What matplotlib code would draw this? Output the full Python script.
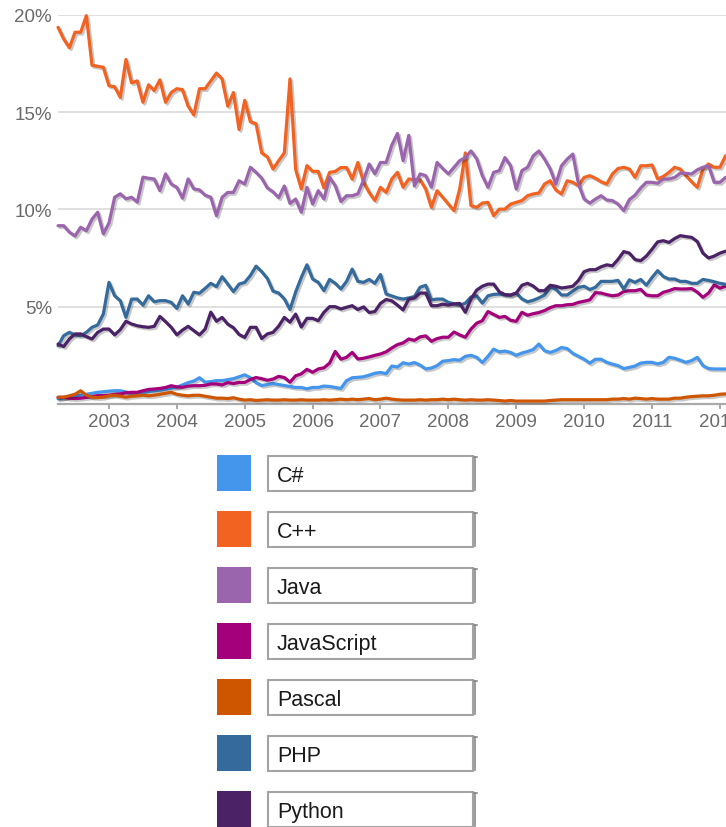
import matplotlib
matplotlib.use("Agg")
import matplotlib.pyplot as plt
import matplotlib.patheffects as pe
from matplotlib.patches import Rectangle
from matplotlib.lines import Line2D
import pandas as pd

plt.rcParams['font.family'] = ['Liberation Sans', 'DejaVu Sans']

# ---------------- data ----------------
months = pd.date_range("2002-04-01", periods=119, freq="MS")

names = ['C#', 'C++', 'Java', 'JavaScript', 'Pascal', 'PHP', 'Python']
colors = ['#4496EC', '#F26322', '#9B65AE', '#A5007B', '#CF5600', '#356A9C', '#4B2266']

csharp = [0.26, 0.32, 0.37, 0.4, 0.45, 0.5, 0.55, 0.6, 0.63, 0.66,
          0.68, 0.68, 0.62, 0.52, 0.55, 0.6, 0.64, 0.68, 0.72, 0.77,
          0.82, 0.86, 0.98, 1.1, 1.18, 1.35, 1.12, 1.15, 1.2, 1.2,
          1.25, 1.3, 1.4, 1.5, 1.35, 1.1, 0.95, 1.0, 1.05, 1.0,
          0.95, 0.9, 0.85, 0.85, 0.78, 0.85, 0.85, 0.92, 0.9, 0.85,
          0.8, 1.2, 1.35, 1.37, 1.4, 1.48, 1.58, 1.62, 1.56, 1.95,
          1.9, 2.12, 2.05, 2.13, 2.0, 1.8, 1.85, 1.97, 2.2, 2.23,
          2.28, 2.25, 2.45, 2.5, 2.4, 2.13, 2.45, 2.82, 2.68, 2.72,
          2.65, 2.5, 2.62, 2.7, 2.8, 3.08, 2.74, 2.65, 2.75, 2.9,
          2.85, 2.6, 2.45, 2.3, 2.1, 2.3, 2.3, 2.14, 2.05, 1.97,
          1.82, 1.88, 1.95, 2.1, 2.14, 2.14, 2.06, 2.14, 2.4, 2.35,
          2.25, 2.14, 2.23, 2.4, 1.97, 1.82, 1.8, 1.8, 1.8]

cpp = [19.35, 18.75, 18.3, 19.1, 19.1, 19.95, 17.4, 17.35, 17.3, 16.35,
       16.3, 15.75, 17.7, 16.5, 16.6, 15.5, 16.4, 16.1, 16.65, 15.5,
       16.0, 16.2, 16.15, 15.3, 14.85, 16.2, 16.2, 16.6, 17.0, 16.7,
       15.3, 16.0, 14.1, 15.6, 14.5, 14.4, 12.9, 12.7, 12.07, 12.5,
       12.9, 16.7, 12.05, 11.05, 12.25, 11.95, 11.95, 11.1, 11.9, 11.95,
       12.15, 12.15, 11.55, 12.41, 11.39, 10.87, 10.45, 11.13, 10.87, 11.56,
       11.9, 11.13, 11.56, 11.52, 11.52, 11.04, 10.1, 10.96, 10.62, 10.27,
       9.93, 11.04, 12.9, 10.19, 10.1, 10.32, 10.36, 9.67, 10.01, 10.01,
       10.27, 10.36, 10.45, 10.7, 10.79, 10.84, 11.3, 11.47, 11.0, 10.79,
       11.47, 11.39, 11.21, 11.64, 11.73, 11.6, 11.42, 11.3, 11.82, 12.1,
       12.16, 12.07, 11.64, 12.24, 12.24, 12.28, 11.56, 11.69, 11.9, 12.16,
       12.07, 11.73, 11.42, 11.13, 12.07, 12.33, 12.16, 12.16, 12.75]

java = [9.16, 9.16, 8.83, 8.63, 9.08, 8.9, 9.5, 9.85, 8.74, 9.3,
        10.62, 10.8, 10.54, 10.62, 10.37, 11.65, 11.6, 11.56, 10.96, 11.82,
        11.3, 11.13, 10.57, 11.56, 11.05, 11.0, 10.73, 10.62, 9.67, 10.62,
        10.87, 10.87, 11.47, 11.3, 12.16, 11.9, 11.6, 11.1, 10.9, 10.6,
        11.2, 10.3, 10.53, 9.85, 11.13, 10.27, 10.96, 10.53, 11.64, 11.21,
        10.4, 10.7, 10.7, 10.8, 11.5, 12.33, 11.82, 12.41, 12.41, 13.3,
        13.9, 12.5, 13.8, 11.2, 11.82, 11.73, 11.13, 12.41, 12.1, 11.82,
        12.16, 12.5, 12.66, 13.0, 12.6, 11.73, 11.13, 11.9, 11.99, 12.66,
        12.24, 11.04, 11.99, 12.16, 12.75, 13.0, 12.58, 12.07, 11.3, 12.24,
        12.58, 12.84, 11.3, 10.53, 10.32, 10.53, 10.7, 10.48, 10.45, 10.27,
        9.93, 10.5, 10.73, 11.1, 11.39, 11.39, 11.34, 11.56, 11.56, 11.64,
        11.86, 11.85, 11.82, 12.03, 12.16, 12.24, 11.39, 11.39, 11.64]

javascript = [0.34, 0.34, 0.3, 0.28, 0.3, 0.34, 0.38, 0.43, 0.43, 0.45,
              0.5, 0.52, 0.58, 0.6, 0.6, 0.68, 0.75, 0.77, 0.8, 0.85,
              0.94, 0.88, 0.86, 0.92, 0.94, 0.94, 0.96, 1.03, 1.03, 0.98,
              1.1, 1.05, 1.11, 1.11, 1.26, 1.36, 1.3, 1.22, 1.28, 1.42,
              1.36, 1.12, 1.45, 1.55, 1.78, 1.63, 1.8, 1.86, 2.1, 2.7,
              2.3, 2.4, 2.65, 2.31, 2.35, 2.42, 2.5, 2.57, 2.68, 2.88,
              3.05, 3.14, 3.34, 3.27, 3.45, 3.5, 3.22, 3.36, 3.43, 3.43,
              3.7, 3.55, 3.43, 3.85, 4.15, 4.28, 4.75, 4.6, 4.45, 4.5,
              4.3, 4.25, 4.71, 4.56, 4.64, 4.7, 4.8, 4.95, 5.05, 5.05,
              5.1, 5.12, 5.22, 5.28, 5.35, 5.72, 5.7, 5.62, 5.56, 5.6,
              5.78, 5.82, 5.82, 5.89, 5.6, 5.56, 5.56, 5.74, 5.82, 5.93,
              5.91, 5.91, 5.93, 5.75, 5.48, 5.7, 6.12, 5.95, 6.05]

pascal = [0.35, 0.35, 0.42, 0.5, 0.68, 0.45, 0.35, 0.33, 0.35, 0.42,
          0.45, 0.4, 0.35, 0.4, 0.42, 0.45, 0.42, 0.45, 0.5, 0.55,
          0.6, 0.5, 0.45, 0.42, 0.45, 0.45, 0.4, 0.35, 0.3, 0.3,
          0.28, 0.32, 0.25, 0.2, 0.22, 0.18, 0.2, 0.22, 0.2, 0.2,
          0.22, 0.2, 0.2, 0.22, 0.2, 0.2, 0.2, 0.22, 0.2, 0.22,
          0.25, 0.22, 0.25, 0.22, 0.25, 0.28, 0.22, 0.25, 0.3, 0.25,
          0.22, 0.2, 0.2, 0.2, 0.22, 0.2, 0.22, 0.22, 0.25, 0.22,
          0.25, 0.22, 0.2, 0.22, 0.2, 0.2, 0.22, 0.2, 0.18, 0.15,
          0.18, 0.15, 0.15, 0.15, 0.15, 0.15, 0.15, 0.18, 0.2, 0.22,
          0.22, 0.22, 0.22, 0.22, 0.22, 0.22, 0.22, 0.22, 0.25, 0.25,
          0.28, 0.25, 0.3, 0.28, 0.25, 0.28, 0.25, 0.25, 0.25, 0.3,
          0.3, 0.35, 0.38, 0.4, 0.42, 0.42, 0.45, 0.5, 0.52]

php = [2.99, 3.51, 3.68, 3.55, 3.51, 3.68, 3.94, 4.06, 4.62, 6.25,
       5.56, 5.31, 4.45, 5.39, 5.39, 5.08, 5.56, 5.25, 5.31, 5.31,
       5.22, 4.91, 5.56, 5.13, 5.74, 5.69, 5.94, 6.2, 6.03, 6.54,
       6.16, 5.77, 6.16, 6.25, 6.6, 7.08, 6.8, 6.45, 5.8, 5.7,
       5.4, 4.85, 5.75, 6.5, 7.15, 6.42, 6.25, 5.82, 6.4, 6.2,
       5.91, 6.3, 6.93, 6.3, 6.25, 6.4, 6.2, 6.65, 5.65, 5.55,
       5.45, 5.39, 5.45, 5.52, 6.0, 6.1, 5.35, 5.39, 5.39, 5.22,
       5.15, 5.08, 5.18, 5.5, 5.56, 5.18, 5.56, 5.63, 5.65, 5.6,
       5.58, 5.7, 5.4, 5.25, 5.33, 5.45, 5.6, 6.0, 5.9, 5.6,
       5.6, 5.8, 5.99, 6.05, 5.88, 6.0, 6.3, 6.3, 6.3, 6.35,
       5.9, 6.38, 6.25, 6.4, 6.1, 6.5, 6.85, 6.55, 6.42, 6.42,
       6.3, 6.3, 6.2, 6.2, 6.4, 6.35, 6.28, 6.2, 6.15]

python = [3.08, 2.95, 3.34, 3.6, 3.6, 3.46, 3.34, 3.68, 3.85, 3.85,
          3.55, 3.82, 4.25, 4.11, 4.02, 3.97, 3.94, 3.99, 4.5, 4.23,
          3.94, 3.55, 3.8, 3.99, 3.77, 3.55, 3.85, 4.72, 4.25, 4.45,
          4.1, 3.92, 3.57, 3.42, 3.94, 3.94, 3.36, 3.6, 3.68, 4.0,
          4.45, 4.2, 4.62, 3.95, 4.4, 4.4, 4.28, 4.71, 5.0, 5.0,
          4.88, 4.97, 5.05, 4.85, 4.99, 4.7, 4.75, 5.17, 5.37, 5.3,
          5.08, 4.83, 5.39, 5.45, 5.7, 5.7, 5.05, 5.05, 5.13, 5.08,
          5.14, 5.17, 4.71, 5.4, 5.85, 6.05, 6.16, 6.16, 5.76, 5.62,
          5.6, 5.7, 6.1, 6.2, 6.06, 5.82, 5.82, 6.1, 6.05, 5.96,
          6.0, 6.05, 6.35, 6.8, 6.9, 6.9, 7.05, 7.15, 7.1, 7.43,
          7.83, 7.75, 7.42, 7.36, 7.6, 7.95, 8.33, 8.39, 8.3, 8.5,
          8.65, 8.6, 8.56, 8.35, 7.75, 7.5, 7.6, 7.75, 7.85]

series = [csharp, cpp, java, javascript, pascal, php, python]

year_ticks = list(range(2003, 2013))
y_ticks = [5, 10, 15, 20]
y_labels = ['5%', '10%', '15%', '20%']

# ---------------- figure ----------------
W, H, DPI = 726, 828, 100
fig = plt.figure(figsize=(W / DPI, H / DPI), dpi=DPI)
fig.patch.set_facecolor('white')


def fx(px):
    return px / W


def fy(py):
    return 1 - py / H


ax = fig.add_axes([fx(58), fy(405), fx(726) - fx(58), fy(15.7) - fy(405)])
xdec = months.year + (months.month - 1) / 12.0
ax.set_xlim(2002.249, 2012.09)
ax.set_ylim(0, 20)

for vals, c in zip(series, colors):
    ax.plot(xdec, vals, color=c, lw=2.3, solid_joinstyle='round',
            solid_capstyle='round', clip_on=False, zorder=3,
            path_effects=[pe.SimpleLineShadow(offset=(1.3, -1.3),
                                              shadow_color='#000000', alpha=0.22),
                          pe.Normal()])

ax.set_yticks(y_ticks)
ax.set_yticklabels(y_labels)
ax.set_xticks(year_ticks)
ax.set_xticklabels([str(y) for y in year_ticks])
ax.yaxis.grid(True, color='#dddddd', lw=1.3)
ax.set_axisbelow(True)
for s in ['top', 'right', 'left']:
    ax.spines[s].set_visible(False)
ax.spines['bottom'].set_color('#aaaaaa')
ax.spines['bottom'].set_linewidth(1.6)
ax.tick_params(axis='y', length=0, pad=4.3, labelsize=13.5, labelcolor='#6a6a6a')
ax.tick_params(axis='x', length=3.8, width=1.2, color='#999999', pad=2.5,
               labelsize=13.5, labelcolor='#6a6a6a')

# ---------------- legend ----------------
for i, (name, c) in enumerate(zip(names, colors)):
    top = 456 + 56 * i
    fig.add_artist(Rectangle((fx(217), fy(top + 36)), fx(34), 36 / H,
                             transform=fig.transFigure, facecolor=c,
                             edgecolor='none'))
    fig.add_artist(Rectangle((fx(268), fy(top + 35.5)), fx(205), 34.5 / H,
                             transform=fig.transFigure, facecolor='white',
                             edgecolor='#a3a3a3', lw=1.5))
    fig.add_artist(Line2D([fx(474.5), fx(474.5)], [fy(top + 1.5), fy(top + 35)],
                          transform=fig.transFigure, color='#8a8a8a', lw=1.2))
    fig.add_artist(Line2D([fx(474), fx(477)], [fy(top + 1.5), fy(top + 1.5)],
                          transform=fig.transFigure, color='#8a8a8a', lw=1.2))
    fig.text(fx(277), fy(top + 26), name, fontsize=15.5, color='#1a1a1a',
             ha='left', va='baseline')

fig.savefig('out.png', dpi=DPI)
